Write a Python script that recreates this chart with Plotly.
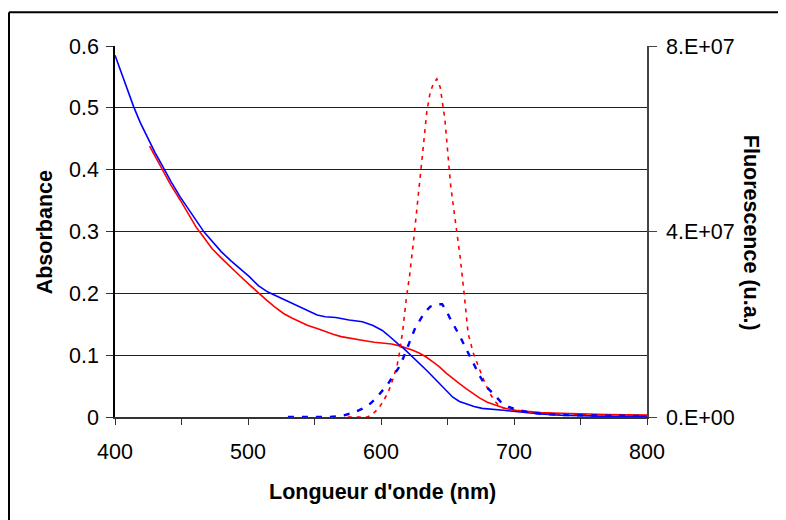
import plotly.graph_objects as go

# ---- data ----
abs_blue_nm = [400, 405, 410, 414, 419, 424, 430, 436, 442, 449, 455, 461, 467, 474, 480, 487, 494, 501,
               508, 515, 521, 528, 534, 540, 546, 552, 558, 566, 576, 586, 594, 601, 605, 609, 613, 617,
               621, 625, 630, 634, 639, 644, 649, 654, 659, 664, 670, 676, 684, 692, 701, 710, 720, 735,
               750, 770, 800]
abs_blue = [0.585, 0.555, 0.527, 0.502, 0.476, 0.453, 0.428, 0.405, 0.381, 0.356, 0.336, 0.318, 0.299,
            0.281, 0.267, 0.253, 0.240, 0.227, 0.212, 0.202, 0.196, 0.189, 0.183, 0.177, 0.171, 0.165,
            0.162, 0.161, 0.157, 0.154, 0.148, 0.140, 0.133, 0.125, 0.118, 0.111, 0.103, 0.095, 0.085,
            0.076, 0.065, 0.054, 0.043, 0.032, 0.025, 0.021, 0.017, 0.014, 0.012, 0.011, 0.009, 0.007,
            0.005, 0.003, 0.002, 0.001, 0.001]

abs_red_nm = [426, 430, 436, 442, 449, 455, 461, 467, 473, 480, 487, 494, 501, 508, 514, 520, 527, 533,
              539, 545, 552, 558, 564, 570, 577, 583, 589, 595, 602, 608, 614, 619, 624, 629, 634, 639,
              644, 649, 654, 659, 664, 669, 674, 680, 686, 693, 701, 710, 720, 735, 750, 770, 800]
abs_red = [0.438, 0.422, 0.399, 0.375, 0.351, 0.329, 0.307, 0.290, 0.272, 0.257, 0.242, 0.228, 0.214,
           0.200, 0.189, 0.178, 0.167, 0.160, 0.154, 0.148, 0.143, 0.138, 0.134, 0.130, 0.127, 0.125,
           0.123, 0.121, 0.120, 0.118, 0.115, 0.112, 0.108, 0.103, 0.097, 0.089, 0.081, 0.071, 0.062,
           0.054, 0.046, 0.038, 0.031, 0.024, 0.019, 0.014, 0.011, 0.009, 0.007, 0.006, 0.005, 0.004,
           0.003]

fluo_red_nm = [575, 590, 594, 598, 601.5, 605.5, 609, 612, 614, 616.5, 619, 621.5, 624.5, 626.5, 629,
               631.5, 634.5, 637, 639.5, 642, 644.5, 648, 650.5, 652.5, 655.5, 659.5, 662.5, 665.5,
               669.5, 674.5, 678, 682, 686, 689.5, 695, 702, 710, 720, 740, 760, 780, 800]
fluo_red = [0, 0, 0.07e7, 0.18e7, 0.33e7, 0.54e7, 0.82e7, 1.1e7, 1.4e7, 1.9e7, 2.55e7, 3.05e7, 3.8e7,
            4.38e7, 5.17e7, 5.75e7, 6.6e7, 7.0e7, 7.2e7, 7.29e7, 7.11e7, 6.43e7, 5.6e7, 4.96e7, 4.31e7,
            3.45e7, 2.66e7, 1.8e7, 1.37e7, 1.0e7, 0.74e7, 0.5e7, 0.33e7, 0.22e7, 0.17e7, 0.14e7, 0.1e7,
            0.08e7, 0.06e7, 0.05e7, 0.04e7, 0.03e7]

fluo_blue_nm = [530, 560, 570, 579, 586, 592, 596, 600.5, 605, 609, 613, 616, 619, 621, 623.5, 626,
                629.5, 633, 637, 641, 646, 649, 652, 655.5, 659, 664, 667, 670, 674, 677, 681, 684.5,
                690, 696, 703, 710, 720, 740, 760, 780, 800]
fluo_blue = [0, 0, 0.02e7, 0.09e7, 0.18e7, 0.29e7, 0.4e7, 0.54e7, 0.7e7, 0.88e7, 1.05e7, 1.22e7,
             1.45e7, 1.58e7, 1.76e7, 1.94e7, 2.1e7, 2.26e7, 2.38e7, 2.43e7, 2.43e7, 2.3e7, 2.12e7,
             1.95e7, 1.76e7, 1.47e7, 1.29e7, 1.11e7, 0.9e7, 0.75e7, 0.6e7, 0.5e7, 0.33e7, 0.22e7,
             0.15e7, 0.11e7, 0.07e7, 0.04e7, 0.03e7, 0.02e7, 0.02e7]

x_tickvals = [400, 500, 600, 700, 800]
y_tickvals = [0, 0.1, 0.2, 0.3, 0.4, 0.5, 0.6]
y2_tickvals = [0, 4e7, 8e7]
y2_ticktext = ["0.E+00", "4.E+07", "8.E+07"]

FONT = "Liberation Sans, Arial, sans-serif"

fig = go.Figure()
fig.add_trace(go.Scatter(x=abs_red_nm, y=abs_red, mode="lines",
                         line=dict(color="#ff0000", width=1.6), showlegend=False))
fig.add_trace(go.Scatter(x=abs_blue_nm, y=abs_blue, mode="lines",
                         line=dict(color="#0000ff", width=1.6), showlegend=False))
fig.add_trace(go.Scatter(x=fluo_red_nm, y=fluo_red, mode="lines", yaxis="y2",
                         line=dict(color="#ff0000", width=1.6, dash="4px,5px"), showlegend=False))
fig.add_trace(go.Scatter(x=fluo_blue_nm, y=fluo_blue, mode="lines", yaxis="y2",
                         line=dict(color="#0000ff", width=2.4, dash="6px,8px"), showlegend=False))

OFF = 8  # page body margin offset
L, R, T, B = 115 - OFF, 647 - OFF, 45.7 - OFF, 416.7 - OFF
W, H = 786, 520

def px(xs):
    return (xs - OFF - L) / (R - L)

def py(ys):
    return (B - (ys - OFF)) / (B - T)

fig.update_layout(
    width=W, height=H,
    margin=dict(l=L, r=W - R, t=T, b=H - B, pad=0),
    paper_bgcolor="white", plot_bgcolor="white",
    font=dict(family=FONT, size=21.5, color="black"),
    xaxis=dict(range=[400, 800], tickvals=x_tickvals, ticks="outside", ticklen=6,
               tickcolor="#333", showgrid=False, zeroline=False, showline=True,
               linecolor="#333", linewidth=1.5, ticklabelstandoff=8,
               minor=dict(dtick=50, ticks="outside", ticklen=6, tickcolor="#333", showgrid=False)),
    yaxis=dict(range=[0, 0.6], tickvals=y_tickvals, ticks="outside", ticklen=7,
               tickcolor="#333", showgrid=True, gridcolor="#222", gridwidth=1,
               zeroline=False, showline=True, linecolor="black", linewidth=1.5,
               ticklabelstandoff=3),
    yaxis2=dict(range=[0, 8e7], overlaying="y", side="right", tickvals=y2_tickvals,
                ticktext=y2_ticktext, ticks="outside", ticklen=8, tickcolor="#444",
                showgrid=False, zeroline=False, showline=True, linecolor="#444",
                linewidth=1.5, ticklabelstandoff=5),
    annotations=[
        dict(text="<b>Longueur d'onde (nm)</b>", xref="paper", yref="paper",
             x=px(382), y=py(492), xanchor="center", yanchor="middle", showarrow=False,
             font=dict(family=FONT, size=21.5, color="black")),
        dict(text="<b>Absorbance</b>", xref="paper", yref="paper",
             x=px(45), y=py(232), xanchor="center", yanchor="middle", showarrow=False,
             textangle=-90, font=dict(family=FONT, size=21.5, color="black")),
        dict(text="<b>Fluorescence (u.a.)</b>", xref="paper", yref="paper",
             x=px(751), y=py(232.5), xanchor="center", yanchor="middle", showarrow=False,
             textangle=90, font=dict(family=FONT, size=21.5, color="black")),
    ],
    shapes=[
        dict(type="line", xref="paper", yref="paper", x0=px(9), x1=px(900),
             y0=py(12), y1=py(12), line=dict(color="black", width=2), layer="above"),
        dict(type="line", xref="paper", yref="paper", x0=px(9), x1=px(9),
             y0=py(12), y1=py(600), line=dict(color="black", width=2), layer="above"),
    ],
)

fig.write_html("out.html")
